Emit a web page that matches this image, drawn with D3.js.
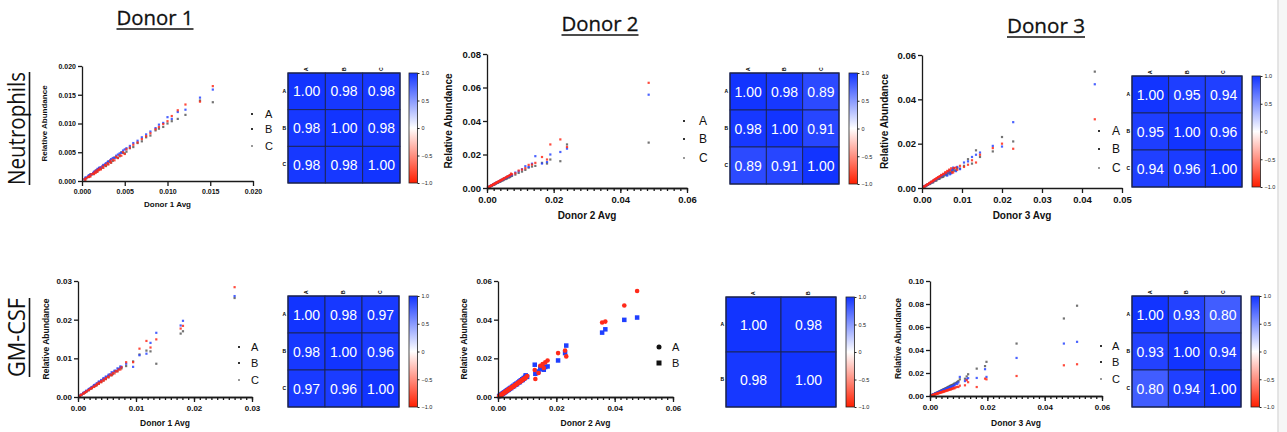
<!DOCTYPE html>
<html>
<head>
<meta charset="utf-8">
<script src="https://cdn.jsdelivr.net/npm/d3@7"></script>
<style>
  body { margin: 0; background: #fff; }
  text { font-family: 'Liberation Sans', Arial, sans-serif; }
  .ax text { font-weight: bold; fill: #111; }
  .ax path, .ax line { stroke: #1a1a1a; stroke-width: 1.3; }
</style>
</head>
<body>
<div id="chart"></div>
<script>
// ---- tick values ----
var ticksN1 = [0, 0.005, 0.010, 0.015, 0.020];
var ticksN2x = [0, 0.02, 0.04, 0.06];
var ticksN2y = [0, 0.02, 0.04, 0.06, 0.08];
var ticksN3x = [0, 0.01, 0.02, 0.03, 0.04, 0.05];
var ticksN3y = [0, 0.02, 0.04, 0.06];
var ticksG1 = [0, 0.01, 0.02, 0.03];
var ticksG2 = [0, 0.02, 0.04, 0.06];
var ticksG3x = [0, 0.02, 0.04, 0.06];
var ticksG3y = [0, 0.02, 0.04, 0.06, 0.08, 0.10];
var cbarTicks = [1.0, 0.5, 0, -0.5, -1.0];

// ---- Neutrophils, Donor 1 ----
var n1Avg = [0.0003,0.0005,0.0007,0.0009,0.0011,0.0013,0.0015,0.0017,0.0019,0.0021,0.0024,0.0027,0.003,0.0033,0.0036,0.004,0.0044,0.0048,0.0052,0.0056,0.006,0.0065,0.007,0.0075,0.008,0.0086,0.009,0.0095,0.010,0.0105,0.0112,0.0121,0.0138,0.0153,
  0.0004,0.0008,0.0010,0.0014,0.0016,0.0018,0.0020,0.0022,0.0025,0.0028,0.0031,0.0034,0.0038,0.0042,0.0046,0.0050];
var n1A = [0.0003,0.0005,0.0007,0.0008,0.0011,0.0012,0.0015,0.0016,0.0019,0.0021,0.0023,0.0027,0.0029,0.0033,0.0035,0.0041,0.0043,0.0049,0.0051,0.0057,0.0059,0.0066,0.0069,0.0076,0.0079,0.0088,0.0091,0.0094,0.0100,0.0104,0.0108,0.0115,0.0140,0.0137,
  0.0005,0.0007,0.0012,0.0013,0.0018,0.0017,0.0022,0.0021,0.0027,0.0026,0.0034,0.0032,0.0041,0.0040,0.0050,0.0048];
var n1B = [0.0003,0.0006,0.0008,0.0010,0.0012,0.0014,0.0016,0.0019,0.0021,0.0023,0.0026,0.0029,0.0033,0.0036,0.0040,0.0044,0.0048,0.0053,0.0057,0.0061,0.0066,0.0070,0.0076,0.0081,0.0086,0.0092,0.0098,0.0101,0.0111,0.0108,0.0120,0.0124,0.0145,0.0159,
  0.0006,0.0010,0.0011,0.0016,0.0017,0.0021,0.0023,0.0024,0.0028,0.0031,0.0034,0.0038,0.0040,0.0046,0.0049,0.0055];
var n1C = [0.0003,0.0005,0.0007,0.0009,0.0012,0.0013,0.0016,0.0018,0.0020,0.0022,0.0025,0.0028,0.0031,0.0035,0.0037,0.0042,0.0045,0.0050,0.0055,0.0058,0.0063,0.0067,0.0073,0.0078,0.0083,0.0090,0.0094,0.0099,0.0104,0.0113,0.0123,0.0133,0.0138,0.0165,
  0.0002,0.0007,0.0008,0.0012,0.0014,0.0016,0.0019,0.0020,0.0023,0.0027,0.0029,0.0032,0.0036,0.0040,0.0044,0.0047];

// ---- Neutrophils, Donor 2 ----
var n2Avg = [0.0003,0.0006,0.0009,0.0012,0.0015,0.0018,0.0021,0.0024,0.0027,0.003,0.0034,0.0038,0.0042,0.0046,0.005,0.0055,0.006,0.0065,0.007,0.0075,0.0085,0.0095,0.0105,0.0115,0.0125,0.0135,0.0145,0.0165,0.018,0.019,0.022,0.024,0.0485,
  0.0005,0.0010,0.0014,0.0019,0.0023,0.0028,0.0032,0.0036,0.0040,0.0044,0.0048,0.0052,0.0058,0.0062,0.0068,0.0072];
var n2A = [0.0003,0.0006,0.0009,0.0012,0.0014,0.0018,0.0020,0.0024,0.0026,0.0030,0.0033,0.0037,0.0041,0.0045,0.0048,0.0053,0.0058,0.0062,0.0068,0.0072,0.0080,0.0090,0.0098,0.0108,0.0122,0.0128,0.0132,0.0150,0.0146,0.0170,0.0160,0.0260,0.0271,
  0.0005,0.0011,0.0013,0.0020,0.0022,0.0030,0.0031,0.0038,0.0039,0.0046,0.0047,0.0055,0.0056,0.0066,0.0065,0.0076];
var n2B = [0.0003,0.0007,0.0010,0.0013,0.0016,0.0019,0.0023,0.0026,0.0029,0.0032,0.0036,0.0041,0.0045,0.0049,0.0054,0.0059,0.0064,0.0068,0.0074,0.0078,0.0092,0.0100,0.0112,0.0130,0.0125,0.0145,0.0190,0.0146,0.0155,0.0200,0.0215,0.0235,0.0557,
  0.0006,0.0012,0.0016,0.0022,0.0026,0.0032,0.0035,0.0040,0.0044,0.0049,0.0052,0.0058,0.0063,0.0068,0.0074,0.0081];
var n2C = [0.0004,0.0007,0.0010,0.0013,0.0017,0.0020,0.0023,0.0027,0.0030,0.0033,0.0038,0.0042,0.0046,0.0050,0.0055,0.0061,0.0066,0.0071,0.0077,0.0082,0.0088,0.0104,0.0110,0.0118,0.0138,0.0140,0.0150,0.0185,0.0170,0.0260,0.0290,0.0245,0.0628,
  0.0006,0.0011,0.0016,0.0021,0.0026,0.0031,0.0036,0.0040,0.0045,0.0049,0.0054,0.0058,0.0065,0.0070,0.0077,0.0086];

// ---- Neutrophils, Donor 3 ----
var n3Avg = [0.0003,0.0006,0.0009,0.0012,0.0015,0.0018,0.0021,0.0024,0.0027,0.003,0.0034,0.0038,0.0042,0.0046,0.005,0.0055,0.006,0.0065,0.007,0.0075,0.008,0.0088,0.0095,0.0105,0.0115,0.0125,0.0135,0.0145,0.0177,0.020,0.0228,0.0432,
  0.0005,0.0010,0.0014,0.0019,0.0023,0.0028,0.0032,0.0036,0.0040,0.0044,0.0048,0.0053,0.0058,0.0063,0.0068,0.0073,0.0078,0.0085];
var n3A = [0.0003,0.0006,0.0008,0.0012,0.0014,0.0018,0.0020,0.0025,0.0026,0.0031,0.0033,0.0039,0.0041,0.0047,0.0049,0.0056,0.0058,0.0066,0.0068,0.0077,0.0078,0.0090,0.0088,0.0100,0.0130,0.0110,0.0170,0.0140,0.0165,0.0230,0.0210,0.0525,
  0.0006,0.0009,0.0016,0.0018,0.0025,0.0026,0.0035,0.0034,0.0044,0.0042,0.0053,0.0050,0.0064,0.0060,0.0075,0.0070,0.0086,0.0080];
var n3B = [0.0003,0.0007,0.0010,0.0013,0.0017,0.0020,0.0023,0.0027,0.0030,0.0034,0.0038,0.0043,0.0046,0.0052,0.0055,0.0061,0.0066,0.0071,0.0062,0.0082,0.0088,0.0095,0.0085,0.0115,0.0120,0.0140,0.0150,0.0160,0.0190,0.0187,0.0297,0.0468,
  0.0006,0.0012,0.0016,0.0022,0.0026,0.0032,0.0037,0.0041,0.0046,0.0050,0.0056,0.0060,0.0067,0.0056,0.0078,0.0066,0.0092,0.0076];
var n3C = [0.0004,0.0007,0.0010,0.0014,0.0017,0.0021,0.0024,0.0028,0.0031,0.0035,0.0040,0.0044,0.0049,0.0053,0.0058,0.0063,0.0069,0.0075,0.0080,0.0070,0.0090,0.0082,0.0100,0.0095,0.0105,0.0125,0.0115,0.0150,0.0180,0.0200,0.0177,0.0310,
  0.0006,0.0012,0.0017,0.0023,0.0028,0.0034,0.0039,0.0044,0.0049,0.0053,0.0059,0.0064,0.0071,0.0077,0.0083,0.0089,0.0070,0.0092];

// ---- GM-CSF, Donor 1 ----
var g1Avg = [0.0003,0.0006,0.0009,0.0012,0.0015,0.0018,0.0021,0.0024,0.0027,0.003,0.0033,0.0036,0.004,0.0044,0.0048,0.0052,0.0056,0.006,0.0065,0.007,0.0075,0.0083,0.0095,0.0106,0.0118,0.0125,0.0135,0.0177,0.0181,0.027,
  0.0005,0.0010,0.0014,0.0019,0.0023,0.0028,0.0032,0.0036,0.0040,0.0044,0.0048,0.0053,0.0058,0.0063,0.0068,0.0073];
var g1A = [0.0003,0.0005,0.0009,0.0011,0.0015,0.0017,0.0021,0.0023,0.0027,0.0029,0.0033,0.0035,0.0040,0.0043,0.0048,0.0051,0.0056,0.0059,0.0066,0.0072,0.0074,0.0080,0.0092,0.0110,0.0120,0.0118,0.0086,0.0164,0.0170,0.0256,
  0.0005,0.0011,0.0014,0.0020,0.0023,0.0030,0.0031,0.0038,0.0039,0.0046,0.0047,0.0055,0.0057,0.0066,0.0067,0.0076];
var g1B = [0.0003,0.0006,0.0010,0.0013,0.0016,0.0019,0.0022,0.0026,0.0029,0.0032,0.0035,0.0039,0.0042,0.0047,0.0051,0.0055,0.0059,0.0063,0.0068,0.0073,0.0078,0.0086,0.0078,0.0108,0.0112,0.0140,0.0166,0.0185,0.0197,0.0261,
  0.0006,0.0011,0.0016,0.0021,0.0025,0.0031,0.0035,0.0040,0.0044,0.0049,0.0053,0.0058,0.0064,0.0068,0.0074,0.0079];
var g1C = [0.0003,0.0006,0.0009,0.0012,0.0015,0.0018,0.0021,0.0024,0.0027,0.0030,0.0034,0.0037,0.0041,0.0045,0.0049,0.0053,0.0058,0.0062,0.0067,0.0071,0.0077,0.0090,0.0090,0.0125,0.0145,0.0128,0.0149,0.0177,0.0184,0.0284,
  0.0005,0.0009,0.0013,0.0018,0.0022,0.0026,0.0030,0.0034,0.0038,0.0042,0.0046,0.0051,0.0056,0.0061,0.0066,0.0071];

// ---- GM-CSF, Donor 2 (A and B only) ----
var g2Avg = [0.0004,0.0008,0.0012,0.0016,0.002,0.0024,0.0028,0.0032,0.0036,0.004,0.0045,0.005,0.0055,0.006,0.0065,0.007,0.0075,0.008,0.0085,0.009,0.0095,0.010,0.0126,0.0128,0.0139,0.0145,0.0153,0.0157,0.0162,0.017,0.0206,0.023,0.0234,0.0357,0.0368,0.0433,0.0477,
  0.0006,0.0010,0.0014,0.0018,0.0022,0.0026,0.0030,0.0034,0.0038,0.0043,0.0048,0.0053,0.0058,0.0063,0.0068,0.0073,0.0078,0.0083,0.0088,0.0093];
var g2A = [0.0004,0.0008,0.0012,0.0016,0.0021,0.0025,0.0029,0.0033,0.0038,0.0042,0.0047,0.0052,0.0057,0.0062,0.0068,0.0074,0.0078,0.0084,0.0090,0.0094,0.0100,0.0108,0.0140,0.0093,0.0124,0.0162,0.0170,0.0150,0.0179,0.0189,0.0227,0.0240,0.0210,0.0385,0.0390,0.0473,0.0548,
  0.0006,0.0010,0.0014,0.0019,0.0023,0.0027,0.0031,0.0036,0.0040,0.0045,0.0050,0.0055,0.0061,0.0066,0.0071,0.0077,0.0082,0.0088,0.0093,0.0098];
var g2B = [0.0004,0.0008,0.0013,0.0017,0.0021,0.0025,0.0030,0.0034,0.0037,0.0043,0.0046,0.0053,0.0056,0.0063,0.0066,0.0075,0.0077,0.0085,0.0088,0.0095,0.0112,0.0104,0.0167,0.0120,0.0132,0.0150,0.0145,0.0141,0.0155,0.0158,0.0189,0.0227,0.0266,0.0333,0.0350,0.0399,0.0411,
  0.0007,0.0011,0.0016,0.0020,0.0024,0.0029,0.0033,0.0037,0.0041,0.0047,0.0052,0.0058,0.0064,0.0069,0.0073,0.0080,0.0086,0.0092,0.0098,0.0104];

// ---- GM-CSF, Donor 3 ----
var g3Avg = [0.0003,0.0006,0.0009,0.0012,0.0015,0.0018,0.0021,0.0024,0.0027,0.003,0.0034,0.0038,0.0042,0.0046,0.005,0.0055,0.006,0.0065,0.007,0.0075,0.008,0.0085,0.009,0.0095,0.0099,0.0104,0.0122,0.0128,0.0133,0.0163,0.0192,0.0197,0.0302,0.0467,0.0513,
  0.0005,0.0010,0.0014,0.0019,0.0023,0.0028,0.0032,0.0036,0.0040,0.0044,0.0048,0.0053,0.0058,0.0063,0.0068,0.0073,0.0078,0.0085];
var g3A = [0.0003,0.0007,0.0010,0.0014,0.0017,0.0021,0.0024,0.0028,0.0032,0.0036,0.0041,0.0046,0.0051,0.0056,0.0061,0.0068,0.0074,0.0081,0.0088,0.0094,0.0100,0.0108,0.0114,0.0122,0.0130,0.0145,0.0150,0.0170,0.0189,0.0238,0.0260,0.0297,0.0456,0.0674,0.0785,
  0.0006,0.0012,0.0017,0.0023,0.0027,0.0033,0.0038,0.0043,0.0048,0.0053,0.0058,0.0064,0.0070,0.0076,0.0082,0.0088,0.0094,0.0102];
var g3B = [0.0003,0.0006,0.0010,0.0013,0.0016,0.0020,0.0023,0.0026,0.0030,0.0033,0.0037,0.0042,0.0046,0.0050,0.0055,0.0060,0.0066,0.0072,0.0077,0.0080,0.0088,0.0094,0.0108,0.0105,0.0118,0.0166,0.0130,0.0145,0.0155,0.0157,0.0233,0.0166,0.0331,0.0456,0.0471,
  0.0005,0.0011,0.0015,0.0020,0.0025,0.0030,0.0034,0.0039,0.0043,0.0047,0.0052,0.0057,0.0063,0.0068,0.0073,0.0079,0.0084,0.0092];
var g3C = [0.0002,0.0005,0.0008,0.0010,0.0013,0.0015,0.0018,0.0021,0.0023,0.0026,0.0030,0.0033,0.0036,0.0040,0.0043,0.0047,0.0051,0.0055,0.0060,0.0063,0.0068,0.0072,0.0075,0.0080,0.0078,0.0090,0.0093,0.0137,0.0120,0.0078,0.0151,0.0145,0.0174,0.0267,0.0276,
  0.0004,0.0008,0.0011,0.0015,0.0018,0.0022,0.0025,0.0028,0.0031,0.0034,0.0037,0.0041,0.0045,0.0049,0.0053,0.0057,0.0061,0.0066];

// ---- correlation matrices ----
var labels3 = ["A", "B", "C"];
var labels2 = ["A", "B"];
var corrN1 = [[1.00, 0.98, 0.98], [0.98, 1.00, 0.98], [0.98, 0.98, 1.00]];
var corrN2 = [[1.00, 0.98, 0.89], [0.98, 1.00, 0.91], [0.89, 0.91, 1.00]];
var corrN3 = [[1.00, 0.95, 0.94], [0.95, 1.00, 0.96], [0.94, 0.96, 1.00]];
var corrG1 = [[1.00, 0.98, 0.97], [0.98, 1.00, 0.96], [0.97, 0.96, 1.00]];
var corrG2 = [[1.00, 0.98], [0.98, 1.00]];
var corrG3 = [[1.00, 0.93, 0.80], [0.93, 1.00, 0.94], [0.80, 0.94, 1.00]];

var colGray = "#5a5a5a", colBlue = "#2a46ff", colRed = "#ff2a1a";

var svg = d3.select("#chart").append("svg").attr("width", 1287).attr("height", 432);

var corrColor = d3.scaleLinear().domain([-1, 0, 1]).range(["#ff1e00", "#ffffff", "#1234ff"]);

// gradient for the colour bars
var grad = svg.append("defs").append("linearGradient")
  .attr("id", "cbar").attr("x1", 0).attr("y1", 0).attr("x2", 0).attr("y2", 1);
[1, 0.5, 0, -0.5, -1].forEach(function (v, i) {
  grad.append("stop").attr("offset", (i * 25) + "%").attr("stop-color", corrColor(v));
});

// right edge of the slide
svg.append("rect").attr("x", 1278).attr("y", 0).attr("width", 9).attr("height", 432).style("fill", "#f6f6f6");
svg.append("line").attr("x1", 1278).attr("x2", 1278).attr("y1", 0).attr("y2", 432).style("stroke", "#dcdcdc").style("stroke-width", 1.5);

// column titles
function title(txt, cx, base, len) {
  svg.append("text").attr("x", cx).attr("y", base).attr("text-anchor", "middle")
    .attr("textLength", len).attr("lengthAdjust", "spacingAndGlyphs")
    .style("font-family", "'Open Sans', sans-serif").style("font-size", "20px").style("fill", "#111")
    .style("stroke", "#111").style("stroke-width", 0.3)
    .text(txt);
  svg.append("line").attr("x1", cx - len / 2).attr("x2", cx + len / 2).attr("y1", base + 4).attr("y2", base + 4)
    .style("stroke", "#111").style("stroke-width", 1.6);
}
title("Donor 1", 155, 25, 77);
title("Donor 2", 600, 31, 77);
title("Donor 3", 1046, 33, 78);

// row titles
function rowTitle(txt, y0, y1) {
  svg.append("text").attr("transform", "translate(25," + ((y0 + y1) / 2) + ") rotate(-90)")
    .attr("text-anchor", "middle").attr("textLength", y1 - y0).attr("lengthAdjust", "spacingAndGlyphs")
    .style("font-family", "'Open Sans', sans-serif").style("font-size", "23px").style("fill", "#111")
    .text(txt);
  svg.append("line").attr("x1", 29.5).attr("x2", 29.5).attr("y1", y0).attr("y2", y1)
    .style("stroke", "#111").style("stroke-width", 1.6);
}
rowTitle("Neutrophils", 72, 185);
rowTitle("GM-CSF", 298, 377);

function scatter(p) {
  var x = d3.scaleLinear().domain([0, p.xmax]).range([p.x0, p.x1]);
  var y = d3.scaleLinear().domain([0, p.ymax]).range([p.y0, p.y1]);
  var g = svg.append("g");

  // draw order can differ from legend order
  (p.drawOrder || [0, 1, 2]).forEach(function (k) {
    var s = p.series[k];
    if (!s) return;
    var pts = p.avg.map(function (a, i) { return [a, s.vals[i]]; });
    if (s.shape === "circle") {
      g.append("g").selectAll("circle").data(pts).join("circle")
        .attr("cx", function (d) { return x(d[0]); }).attr("cy", function (d) { return y(d[1]); })
        .attr("r", 2.3).style("fill", s.color);
    } else {
      var sz = s.size || 2.2;
      g.append("g").selectAll("rect").data(pts).join("rect")
        .attr("x", function (d) { return x(d[0]) - sz / 2; }).attr("y", function (d) { return y(d[1]) - sz / 2; })
        .attr("width", sz).attr("height", sz).style("fill", s.color).style("opacity", s.size ? 1 : 0.85);
    }
  });

  if (p.xminor) {
    g.append("g").attr("class", "ax").attr("transform", "translate(0," + p.y0 + ")")
      .call(d3.axisBottom(x).tickValues(d3.range(0, p.xmax + p.xminor / 2, p.xminor)).tickSize(3).tickSizeOuter(0).tickFormat(""));
  }
  g.append("g").attr("class", "ax").attr("transform", "translate(0," + p.y0 + ")")
    .call(d3.axisBottom(x).tickValues(p.xticks).tickSize(5).tickSizeOuter(0).tickPadding(3).tickFormat(d3.format(p.fmt)))
    .selectAll("text").style("font-size", p.font + "px");
  g.append("g").attr("class", "ax").attr("transform", "translate(" + p.x0 + ",0)")
    .call(d3.axisLeft(y).tickValues(p.yticks).tickSize(4).tickSizeOuter(0).tickPadding(2).tickFormat(d3.format(p.fmt)))
    .selectAll("text").style("font-size", p.font + "px");

  g.append("text").attr("x", (p.x0 + p.x1) / 2).attr("y", p.xLabelY).attr("text-anchor", "middle")
    .style("font-weight", "bold").style("font-size", p.labFont + "px").style("fill", "#111")
    .text(p.xLabel);
  g.append("text").attr("transform", "translate(" + p.yLabelX + "," + ((p.y0 + p.y1) / 2) + ") rotate(-90)")
    .attr("text-anchor", "middle").style("font-weight", "bold").style("font-size", p.labFont + "px").style("fill", "#111")
    .text("Relative Abundance");

  // legend
  p.series.forEach(function (s, i) {
    var ly = p.legY[i];
    if (s.shape === "circle") {
      g.append("circle").attr("cx", p.legMx).attr("cy", ly).attr("r", 2.5).style("fill", "#111");
    } else if (s.size) {
      g.append("rect").attr("x", p.legMx - 2.5).attr("y", ly - 2.5).attr("width", 5).attr("height", 5).style("fill", "#111");
    } else {
      g.append("rect").attr("x", p.legMx - 1).attr("y", ly - 1).attr("width", 2).attr("height", 2).style("fill", i === 2 ? "#999" : "#333");
    }
    g.append("text").attr("x", p.legLx).attr("y", ly).attr("dy", "0.36em")
      .style("font-size", p.legFont + "px").style("fill", "#111").text(s.name);
  });
}

function heatmap(h) {
  var cx = d3.scaleBand().domain(h.labels).range([h.x0, h.x1]);
  var cy = d3.scaleBand().domain(h.labels).range([h.y0, h.y1]);
  var g = svg.append("g");
  var cells = [];
  h.m.forEach(function (row, i) { row.forEach(function (v, j) { cells.push({ r: h.labels[i], c: h.labels[j], v: v }); }); });

  g.selectAll("rect.cell").data(cells).join("rect").attr("class", "cell")
    .attr("x", function (d) { return cx(d.c); }).attr("y", function (d) { return cy(d.r); })
    .attr("width", cx.bandwidth()).attr("height", cy.bandwidth())
    .style("fill", function (d) { return corrColor(d.v); })
    .style("stroke", "#1c2450").style("stroke-width", 0.9);
  g.selectAll("text.val").data(cells).join("text").attr("class", "val")
    .attr("x", function (d) { return cx(d.c) + cx.bandwidth() / 2; })
    .attr("y", function (d) { return cy(d.r) + cy.bandwidth() / 2; })
    .attr("dy", "0.36em").attr("text-anchor", "middle")
    .style("fill", "#fff").style("font-size", "14px")
    .text(function (d) { return d3.format(".2f")(d.v); });
  g.append("rect").attr("x", h.x0).attr("y", h.y0).attr("width", h.x1 - h.x0).attr("height", h.y1 - h.y0)
    .style("fill", "none").style("stroke", "#1c2450").style("stroke-width", 1.2);

  // tiny row / column labels
  g.selectAll("text.rl").data(h.labels).join("text").attr("class", "rl")
    .attr("x", h.x0 - 2).attr("y", function (d) { return cy(d) + cy.bandwidth() / 2; })
    .attr("dy", "0.35em").attr("text-anchor", "end").style("font-size", "5px").style("font-weight", "bold").text(function (d) { return d; });
  g.selectAll("text.cl").data(h.labels).join("text").attr("class", "cl")
    .attr("transform", function (d) { return "translate(" + (cx(d) + cx.bandwidth() / 2) + "," + (h.y0 - 2) + ") rotate(-90)"; })
    .attr("dy", "0.35em").style("font-size", "5px").style("font-weight", "bold").text(function (d) { return d; });

  // colour bar
  var cb = d3.scaleLinear().domain([-1, 1]).range([h.y1, h.y0]);
  g.append("rect").attr("x", h.cbx).attr("y", h.y0).attr("width", 8.5).attr("height", h.y1 - h.y0)
    .style("fill", "url(#cbar)").style("stroke", "#222").style("stroke-width", 0.8);
  g.append("g").attr("transform", "translate(" + (h.cbx + 8.5) + ",0)")
    .call(d3.axisRight(cb).tickValues(cbarTicks).tickSize(2).tickPadding(2).tickFormat(function (d) { return d === 0 ? "0" : d3.format(".1f")(d); }))
    .call(function (a) { a.select(".domain").remove(); })
    .call(function (a) { a.selectAll("line").style("stroke", "#222"); })
    .selectAll("text").style("font-size", "5.5px").style("fill", "#222");
}

var ser3 = function (a, b, c) {
  return [{ name: "A", vals: a, color: colGray }, { name: "B", vals: b, color: colBlue }, { name: "C", vals: c, color: colRed }];
};

scatter({ x0: 82, x1: 253, y0: 181, y1: 66, xmax: 0.020, ymax: 0.020, xticks: ticksN1, yticks: ticksN1, fmt: ".3f",
  font: 7, labFont: 8, xLabel: "Donor 1 Avg", xLabelY: 207, yLabelX: 47, avg: n1Avg, series: ser3(n1A, n1B, n1C),
  legMx: 252, legLx: 265, legY: [114, 129, 146], legFont: 11 });
scatter({ x0: 487, x1: 687, y0: 188, y1: 54, xmax: 0.06, ymax: 0.08, xticks: ticksN2x, yticks: ticksN2y, fmt: ".2f", xminor: 0.002,
  font: 9.5, labFont: 10, xLabel: "Donor 2 Avg", xLabelY: 219, yLabelX: 452, avg: n2Avg, series: ser3(n2A, n2B, n2C),
  legMx: 684, legLx: 699, legY: [121, 139, 158], legFont: 12 });
scatter({ x0: 922, x1: 1122, y0: 188, y1: 55, xmax: 0.05, ymax: 0.06, xticks: ticksN3x, yticks: ticksN3y, fmt: ".2f",
  font: 9.5, labFont: 10, xLabel: "Donor 3 Avg", xLabelY: 219, yLabelX: 888, avg: n3Avg, series: ser3(n3A, n3B, n3C),
  legMx: 1099, legLx: 1112, legY: [131, 149, 168], legFont: 12 });
scatter({ x0: 78, x1: 252, y0: 397, y1: 281, xmax: 0.03, ymax: 0.03, xticks: ticksG1, yticks: ticksG1, fmt: ".2f", xminor: 0.001,
  font: 8, labFont: 8.5, xLabel: "Donor 1 Avg", xLabelY: 426, yLabelX: 49, avg: g1Avg, series: ser3(g1A, g1B, g1C),
  legMx: 239, legLx: 251, legY: [347, 363, 380], legFont: 11 });
scatter({ x0: 498, x1: 673, y0: 397, y1: 281, xmax: 0.06, ymax: 0.06, xticks: ticksG2, yticks: ticksG2, fmt: ".2f", xminor: 0.002,
  font: 8, labFont: 8.5, xLabel: "Donor 2 Avg", xLabelY: 426, yLabelX: 467, avg: g2Avg, drawOrder: [1, 0],
  series: [{ name: "A", vals: g2A, color: "#ff2a1a", shape: "circle" }, { name: "B", vals: g2B, color: "#1f3fff", size: 4.5 }],
  legMx: 659, legLx: 672, legY: [347, 363], legFont: 11 });
scatter({ x0: 930, x1: 1102, y0: 396, y1: 281, xmax: 0.06, ymax: 0.10, xticks: ticksG3x, yticks: ticksG3y, fmt: ".2f", xminor: 0.002,
  font: 8, labFont: 8.5, xLabel: "Donor 3 Avg", xLabelY: 426, yLabelX: 901, avg: g3Avg, series: ser3(g3A, g3B, g3C),
  legMx: 1101, legLx: 1112, legY: [346, 362, 379], legFont: 11 });

heatmap({ labels: labels3, m: corrN1, x0: 288, x1: 400, y0: 73, y1: 183, cbx: 409 });
heatmap({ labels: labels3, m: corrN2, x0: 730, x1: 839, y0: 73, y1: 184, cbx: 849 });
heatmap({ labels: labels3, m: corrN3, x0: 1132, x1: 1242, y0: 76, y1: 187, cbx: 1252 });
heatmap({ labels: labels3, m: corrG1, x0: 288, x1: 399, y0: 296, y1: 407, cbx: 409 });
heatmap({ labels: labels2, m: corrG2, x0: 726, x1: 836, y0: 297, y1: 407, cbx: 846 });
heatmap({ labels: labels3, m: corrG3, x0: 1132, x1: 1241, y0: 296, y1: 407, cbx: 1251 });
</script>
</body>
</html>
